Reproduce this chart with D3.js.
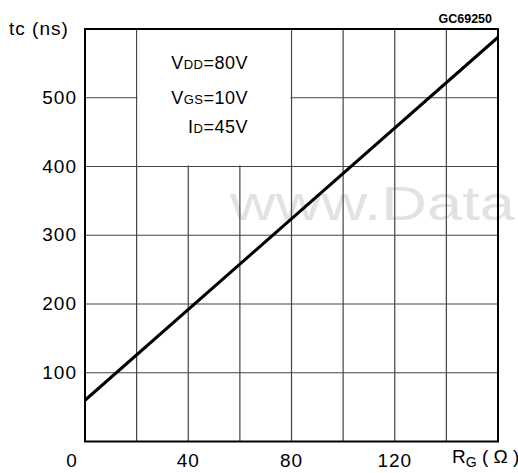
<!DOCTYPE html>
<html>
<head>
<meta charset="utf-8">
<script src="https://cdn.jsdelivr.net/npm/d3@7"></script>
<style>
  body { margin: 0; background: #fff; }
  svg { display: block; }
  text { font-family: "Liberation Sans", Arial, sans-serif; fill: #000; }
</style>
</head>
<body>
<div id="chart"></div>
<script>
// values
var rgDomain = [0, 160];
var tcDomain = [0, 600];
var rgGrid = [20, 40, 60, 80, 100, 120, 140];
var tcGrid = [100, 200, 300, 400, 500];
var rgLabels = [0, 40, 80, 120];
var tcLabels = [100, 200, 300, 400, 500];
var lineRg = [0, 160];
var lineTc = [60, 588];
var conditions = [
  { main: "V", sub: "DD", rest: "=80V" },
  { main: "V", sub: "GS", rest: "=10V" },
  { main: "I", sub: "D", rest: "=45V" }
];

var width = 518, height = 473;
var margin = {top: 29, right: 20, bottom: 31.5, left: 85};

var svg = d3.select("#chart").append("svg")
    .attr("width", width)
    .attr("height", height);

var x = d3.scaleLinear().domain(rgDomain).range([margin.left, width - margin.right]);
var y = d3.scaleLinear().domain(tcDomain).range([height - margin.bottom, margin.top]);

// watermark sits behind everything
svg.append("text")
    .attr("x", 230)
    .attr("y", 220)
    .attr("font-size", 49)
    .attr("textLength", 285)
    .attr("lengthAdjust", "spacingAndGlyphs")
    .style("fill", "#e2e2e2")
    .text("www.Data");

var grid = svg.append("g").attr("class", "grid");

grid.selectAll(".vline")
  .data(rgGrid)
  .enter().append("line")
    .attr("x1", function(d) { return x(d); })
    .attr("x2", function(d) { return x(d); })
    .attr("y1", y(600))
    .attr("y2", y(0))
    .attr("stroke", "#444")
    .attr("stroke-width", 1.2);

grid.selectAll(".hline")
  .data(tcGrid)
  .enter().append("line")
    .attr("x1", x(0))
    .attr("x2", x(160))
    .attr("y1", function(d) { return y(d); })
    .attr("y2", function(d) { return y(d); })
    .attr("stroke", "#444")
    .attr("stroke-width", 1.2);

// white box behind the test conditions
svg.append("rect")
    .attr("x", x(20) + 1)
    .attr("y", y(600) + 1)
    .attr("width", x(80) - x(20) - 2)
    .attr("height", y(400) - y(600) - 2)
    .attr("fill", "#fff");

var cond = svg.append("g").attr("class", "conditions");
conditions.forEach(function(c, i) {
  var t = cond.append("text")
      .attr("x", 248)
      .attr("y", [69, 104, 133][i])
      .attr("text-anchor", "end")
      .attr("font-size", 18)
      .attr("letter-spacing", 0.5);
  t.append("tspan").text(c.main);
  t.append("tspan").attr("font-size", 13).text(c.sub);
  t.append("tspan").text(c.rest);
});

// frame
svg.append("rect")
    .attr("x", x(0))
    .attr("y", y(600))
    .attr("width", x(160) - x(0))
    .attr("height", y(0) - y(600))
    .attr("fill", "none")
    .attr("stroke", "#000")
    .attr("stroke-width", 2);

// tc vs RG line
var line = d3.line()
    .x(function(d) { return x(d[0]); })
    .y(function(d) { return y(d[1]); });

svg.append("path")
    .datum(d3.zip(lineRg, lineTc))
    .attr("d", line)
    .attr("fill", "none")
    .attr("stroke", "#000")
    .attr("stroke-width", 3);

// tick labels
svg.selectAll(".ylab")
  .data(tcLabels)
  .enter().append("text")
    .attr("x", 77)
    .attr("y", function(d) { return y(d) + 6; })
    .attr("text-anchor", "end")
    .attr("font-size", 19)
    .attr("letter-spacing", 1)
    .text(function(d) { return d; });

svg.selectAll(".xlab")
  .data(rgLabels)
  .enter().append("text")
    .attr("x", function(d) { return d === 0 ? 72 : x(d); })
    .attr("y", 467)
    .attr("text-anchor", "middle")
    .attr("font-size", 19)
    .attr("letter-spacing", 1)
    .text(function(d) { return d; });

// axis titles
svg.append("text")
    .attr("x", 9)
    .attr("y", 35)
    .attr("font-size", 19)
    .attr("letter-spacing", 1)
    .text("tc (ns)");

var xt = svg.append("text")
    .attr("x", 452)
    .attr("y", 463)
    .attr("font-size", 19);
xt.append("tspan").text("R");
xt.append("tspan").attr("font-size", 14).attr("dy", 4).text("G");
xt.append("tspan").attr("dy", -4).text(" ( \u03A9 )");

svg.append("text")
    .attr("x", 492)
    .attr("y", 23)
    .attr("text-anchor", "end")
    .attr("font-size", 12.5)
    .attr("font-weight", "bold")
    .text("GC69250");
</script>
</body>
</html>
